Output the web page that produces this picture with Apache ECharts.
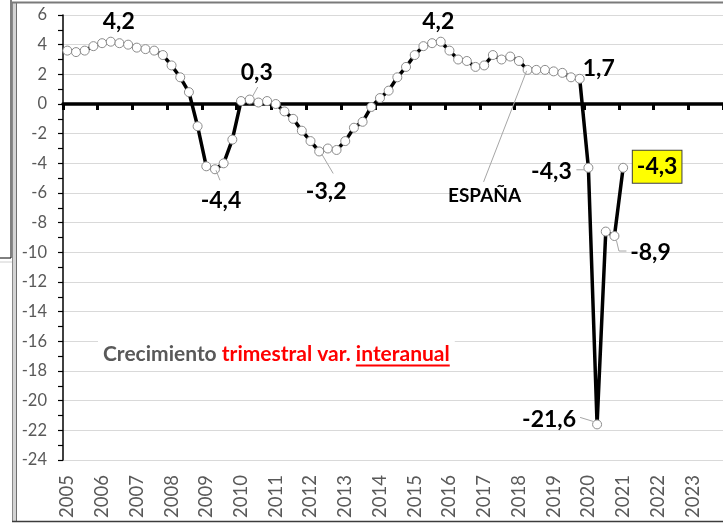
<!DOCTYPE html>
<html>
<head>
<meta charset="utf-8">
<script src="https://cdn.jsdelivr.net/npm/echarts@6/dist/echarts.min.js"></script>
<style>
  html, body { margin: 0; padding: 0; background: #fff; }
  #chart { width: 723px; height: 523px; }
</style>
</head>
<body>
<div id="chart"></div>
<script>
// España · crecimiento del PIB, variación interanual por trimestre
const YEARS = ['2005', '2006', '2007', '2008', '2009', '2010', '2011', '2012', '2013', '2014',
               '2015', '2016', '2017', '2018', '2019', '2020', '2021', '2022', '2023'];
const QUARTERS = ['T1', 'T2', 'T3', 'T4'];

// 2005T1 .. 2021T1
const GDP_YOY = [
  3.6, 3.5, 3.6, 3.9,      // 2005
  4.1, 4.2, 4.1, 4.0,      // 2006
  3.8, 3.7, 3.6, 3.3,      // 2007
  2.6, 1.8, 0.8, -1.5,     // 2008
  -4.2, -4.4, -4.0, -2.4,  // 2009
  0.2, 0.3, 0.1, 0.2,      // 2010
  0.0, -0.5, -1.0, -1.8,   // 2011
  -2.5, -3.2, -3.0, -3.1,  // 2012
  -2.5, -1.6, -1.2, -0.2,  // 2013
  0.4, 0.9, 1.8, 2.5,      // 2014
  3.3, 3.9, 4.1, 4.2,      // 2015
  3.6, 3.0, 2.9, 2.5,      // 2016
  2.6, 3.3, 3.0, 3.2,      // 2017
  2.9, 2.3, 2.3, 2.3,      // 2018
  2.2, 2.1, 1.8, 1.7,      // 2019
  -4.3, -21.6, -8.6, -8.9, // 2020
  -4.3                     // 2021
];

// points that carry a callout (index into GDP_YOY)
const NOTE_IDX  = [5, 17, 21, 29, 43, 53, 59, 60, 61, 63, 64];
const NOTE_TEXT = ['4,2', '-4,4', '0,3', '-3,2', '4,2', 'ESPAÑA', '1,7', '-4,3', '-21,6', '-8,9', '-4,3'];

const Y_MIN = -24, Y_MAX = 6, Y_STEP = 2;

// callout layout: label centre offset from the point, optional leader polyline, style tag
const NOTE_LAYOUT = [
  { d: [8, -20] },
  { d: [6, 31],   lead: [[1, 1], [5, 11]] },
  { d: [7, -27],  lead: [[3, -3.5], [8, -12.5]] },
  { d: [7, 40],   lead: [[2.5, 2.5], [14, 22]] },
  { d: [-2.5, -20] },
  { d: [-43, 126], lead: [[-1, 1], [-44, 112]], small: true },
  { d: [19, -10] },
  { d: [-37, 4],  lead: [[-12, 2], [-4, 2]] },
  { d: [-48, -5], lead: [[-17, -7], [-4, -3]] },
  { d: [36, 16.5], lead: [[2, 4.5], [4.5, 15], [12, 15]] },
  { d: [34, -1],  box: true }
];

const FONT = 'Lato';
const categories = YEARS.flatMap(y => QUARTERS.map(q => q + ' ' + y));

const el = document.getElementById('chart');
const chart = echarts.init(el, null, { renderer: 'canvas' });

chart.setOption({
  animation: false,
  backgroundColor: '#fff',
  grid: { left: 63, right: 0, top: 15, bottom: 63, containLabel: false, outerBoundsMode: 'none' },
  xAxis: [{
    type: 'category', data: categories, boundaryGap: true, position: 'bottom',
    axisLine: { show: false, onZero: false },
    axisTick: { show: false },
    splitLine: { show: false },
    axisLabel: {
      interval: 3, rotate: 90, margin: 15, color: '#595959', fontFamily: FONT, fontSize: 18.5,
      formatter: (v, i) => YEARS[Math.floor(i / 4)]
    }
  }, {
    // zero line with year ticks
    type: 'category', data: categories, boundaryGap: true, position: 'bottom',
    axisLine: { show: true, onZero: true, lineStyle: { color: '#000', width: 3.5 } },
    axisTick: { show: true, interval: 3, length: 6, lineStyle: { color: '#000', width: 3 } },
    axisLabel: { show: false },
    splitLine: { show: false }
  }],
  yAxis: {
    type: 'value', min: Y_MIN, max: Y_MAX, interval: Y_STEP,
    axisLine: { show: true, lineStyle: { color: '#000', width: 1.5 } },
    axisTick: { show: true, length: 5, lineStyle: { color: '#000', width: 1.2 } },
    minorTick: { show: true, splitNumber: 2, length: 5, lineStyle: { color: '#000', width: 1.2 } },
    splitLine: { show: true, lineStyle: { color: '#d9d9d9', width: 1 } },
    axisLabel: { color: '#595959', fontFamily: FONT, fontSize: 16.5, margin: 16 }
  },
  series: [{
    type: 'line', data: GDP_YOY, xAxisIndex: 0,
    symbol: 'circle', symbolSize: 9, showAllSymbol: true,
    lineStyle: { color: '#000', width: 3.5 },
    itemStyle: { color: '#fff', borderColor: '#8c8c8c', borderWidth: 1 },
    emphasis: { disabled: true },
    z: 3
  }]
});

// ---- callouts, text box and frame as graphic elements ----
const gfx = [];

// outer frame (Excel chart border) and the clipped box at the left edge
gfx.push({ type: 'line', shape: { x1: 11, y1: 0, x2: 11, y2: 258 }, style: { stroke: '#000', lineWidth: 1 }, z: 10 });
gfx.push({ type: 'line', shape: { x1: 0, y1: 258, x2: 11, y2: 258 }, style: { stroke: '#000', lineWidth: 1 }, z: 10 });
gfx.push({ type: 'line', shape: { x1: 0, y1: 262, x2: 12, y2: 262 }, style: { stroke: '#d0d0d0', lineWidth: 1 }, z: 10 });
gfx.push({ type: 'rect', shape: { x: 12, y: 2, width: 4, height: 520 }, style: { fill: '#d4d4d4', stroke: null }, z: 10 });
gfx.push({ type: 'line', shape: { x1: 12.5, y1: 2, x2: 12.5, y2: 522 }, style: { stroke: '#8a8a8a', lineWidth: 1 }, z: 10 });
gfx.push({ type: 'line', shape: { x1: 16.5, y1: 3, x2: 16.5, y2: 521 }, style: { stroke: '#6e6e6e', lineWidth: 1 }, z: 10 });
gfx.push({ type: 'line', shape: { x1: 12, y1: 2.5, x2: 723, y2: 2.5 }, style: { stroke: '#7a7a7a', lineWidth: 2 }, z: 10 });
gfx.push({ type: 'line', shape: { x1: 12, y1: 521.5, x2: 723, y2: 521.5 }, style: { stroke: '#3c3c3c', lineWidth: 1.5 }, z: 10 });

// "Crecimiento trimestral var. interanual" text box
const TB_FONT = 21;
const meas = document.createElement('canvas').getContext('2d');
meas.font = 'bold ' + TB_FONT + 'px ' + FONT;
const wA = meas.measureText('Crecimiento ').width;
const wB = meas.measureText('trimestral var. ').width;
const wC = meas.measureText('interanual').width;
const tbX = 103, tbY = 354;
gfx.push({ type: 'rect', shape: { x: 98, y: 333, width: wA + wB + wC + 10, height: 35 }, style: { fill: '#fff' }, z: 5 });
gfx.push({
  type: 'text', x: tbX, y: tbY, z: 6,
  style: {
    text: '{g|Crecimiento }{r|trimestral var. interanual}',
    verticalAlign: 'middle', align: 'left',
    rich: {
      g: { fill: '#595959', fontFamily: FONT, fontWeight: 'bold', fontSize: TB_FONT },
      r: { fill: '#ff0000', fontFamily: FONT, fontWeight: 'bold', fontSize: TB_FONT }
    }
  }
});
gfx.push({
  type: 'line', z: 6,
  shape: { x1: tbX + wA + wB, y1: tbY + 11.5, x2: tbX + wA + wB + wC, y2: tbY + 11.5 },
  style: { stroke: '#ff0000', lineWidth: 2 }
});

// callouts
NOTE_IDX.forEach((idx, k) => {
  const [px, py] = chart.convertToPixel({ seriesIndex: 0 }, [idx, GDP_YOY[idx]]);
  const L = NOTE_LAYOUT[k];
  if (L.lead) {
    gfx.push({
      type: 'polyline', z: 8,
      shape: { points: L.lead.map(p => [px + p[0], py + p[1]]) },
      style: { stroke: '#a6a6a6', lineWidth: 1, fill: null }
    });
  }
  const st = {
    text: NOTE_TEXT[k], align: 'center', verticalAlign: 'middle',
    fill: '#000', fontFamily: FONT, fontWeight: 'bold', fontSize: L.small ? 19 : 23
  };
  if (L.box) {
    st.backgroundColor = '#ffff00';
    st.borderColor = '#404040';
    st.borderWidth = 1;
    st.padding = [5, 4, 4, 4];
  }
  gfx.push({ type: 'text', x: px + L.d[0], y: py + L.d[1], z: 9, style: st });
});

chart.setOption({ graphic: { elements: gfx } });
</script>
</body>
</html>
